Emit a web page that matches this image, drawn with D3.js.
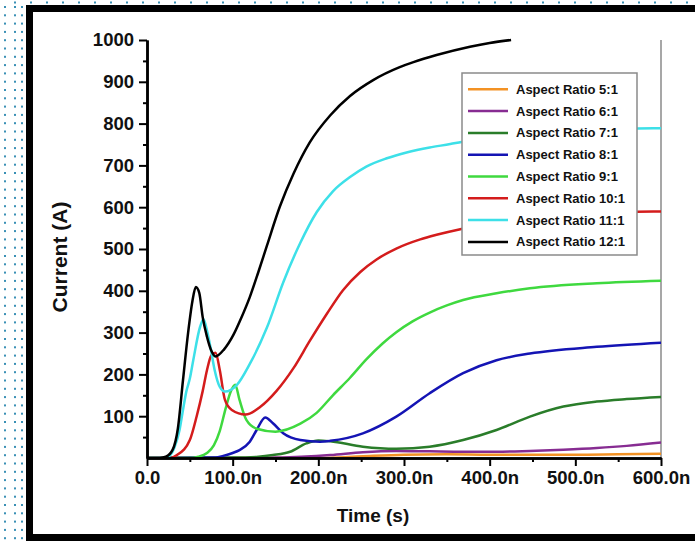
<!DOCTYPE html>
<html>
<head>
<meta charset="utf-8">
<script src="https://cdn.jsdelivr.net/npm/d3@7"></script>
<style>
	body { margin: 0; background: #fff; }
	svg text { font-family: "Liberation Sans", Arial, sans-serif; font-weight: bold; fill: #111; }
	.axis path, .axis line { stroke: #000; }
</style>
</head>
<body>
<svg id="chart" width="695" height="541"></svg>
<script>
// Подписи серий и цвета
var names = ["Aspect Ratio 5:1", "Aspect Ratio 6:1", "Aspect Ratio 7:1", "Aspect Ratio 8:1",
	"Aspect Ratio 9:1", "Aspect Ratio 10:1", "Aspect Ratio 11:1", "Aspect Ratio 12:1"];
var colors = ["#f39224", "#872c92", "#2a7d2a", "#1414b4", "#3fd93f", "#d41c1c", "#3de0e8", "#000000"];

// Точки кривых: [время, нс ; ток, А]
var r5 = [[0, 0], [200, 0], [230, 2], [260, 5], [300, 8], [350, 9], [400, 8], [450, 8], [500, 8], [550, 9], [600, 10]];
var r6 = [[0, 0], [120, 0], [150, 1], [180, 3], [214, 7], [252, 14], [291, 17], [330, 16], [369, 15], [408, 15],
	[447, 17], [486, 20], [525, 24], [560, 29], [600, 37]];
var r7 = [[0, 0], [100, 1], [130, 3], [147, 7], [167, 15], [186, 35], [200, 42], [214, 40], [252, 27], [291, 22],
	[330, 27], [369, 43], [408, 67], [447, 99], [486, 123], [525, 135], [560, 141], [600, 146]];
var r8 = [[0, 0], [80, 1], [89, 5], [100, 12], [108, 19], [120, 39], [128, 67], [138, 97], [147, 83], [159, 59],
	[179, 43], [202, 39], [214, 41], [252, 59], [291, 99], [330, 155], [369, 203], [408, 234], [447, 250],
	[525, 266], [600, 276]];
var r9 = [[0, 0], [50, 0], [60, 3], [70, 12], [78, 30], [85, 65], [92, 120], [98, 160], [103, 175], [108, 139],
	[116, 91], [128, 70], [150, 63], [179, 82], [198, 108], [217, 150], [237, 192], [256, 236], [275, 274],
	[291, 301], [310, 327], [330, 348], [350, 365], [369, 378], [408, 394], [447, 406], [525, 418], [600, 424]];
var r10 = [[0, 0], [28, 0], [35, 7], [50, 43], [58, 100], [65, 160], [70, 210], [75, 245], [80, 252], [85, 210],
	[91, 139], [99, 115], [115, 104], [132, 122], [151, 160], [171, 215], [190, 280], [210, 345], [229, 402],
	[249, 445], [268, 475], [291, 501], [319, 523], [338, 534], [367, 548], [420, 567], [480, 580],
	[540, 587], [572, 589], [600, 590]];
var r11 = [[0, 0], [20, 0], [25, 3], [32, 25], [38, 67], [42, 115], [46, 160], [50, 190], [54, 234], [62, 314],
	[66, 332], [70, 305], [74, 266], [79, 210], [85, 170], [91, 159], [105, 175], [120, 225], [140, 312],
	[159, 420], [179, 515], [198, 588], [217, 638], [237, 672], [256, 697], [280, 717], [303, 731],
	[330, 743], [354, 751], [367, 756], [430, 772], [500, 782], [572, 788], [600, 789]];
var r12 = [[0, 0], [15, 0], [22, 3], [30, 20], [36, 70], [42, 186], [48, 300], [53, 375], [57, 409], [61, 395],
	[65, 337], [70, 290], [75, 257], [80, 243], [90, 260], [101, 295], [110, 335], [120, 385], [130, 445],
	[140, 508], [155, 601], [171, 680], [190, 755], [214, 820], [237, 866], [264, 904], [295, 935],
	[311, 947], [338, 964], [377, 984], [400, 993], [425, 1000]];
var series = [r5, r6, r7, r8, r9, r10, r11, r12];

// Деления осей
var xTicks = [0, 100, 200, 300, 400, 500, 600];
var xLabels = ["0.0", "100.0n", "200.0n", "300.0n", "400.0n", "500.0n", "600.0n"];
var xMinor = [50, 150, 250, 350, 450, 550];
var yTicks = [100, 200, 300, 400, 500, 600, 700, 800, 900, 1000];
var yMinor = [50, 150, 250, 350, 450, 550, 650, 750, 850, 950];

var svg = d3.select("#chart");

// Пунктирная рамка страницы
var dots = svg.append("g").attr("fill", "#3a90b5");
d3.range(14, 695, 16).forEach(function (px) {
	dots.append("rect").attr("x", px).attr("y", 1.5).attr("width", 2).attr("height", 2);
});
[4, 14, 21].forEach(function (px) {
	d3.range(6, 541, 8.3).forEach(function (py) {
		dots.append("rect").attr("x", px).attr("y", py).attr("width", 2).attr("height", 2);
	});
});

// Чёрная рамка
svg.append("rect")
	.attr("x", 29.5).attr("y", 8.5)
	.attr("width", 720).attr("height", 529)
	.attr("fill", "#fff")
	.attr("stroke", "#000")
	.attr("stroke-width", 7);

var plotL = 147, plotR = 661, plotT = 40, plotB = 458;

var x = d3.scaleLinear().domain([0, 600]).range([plotL, plotR]);
var y = d3.scaleLinear().domain([0, 1000]).range([plotB, plotT]);

svg.append("defs").append("clipPath")
	.attr("id", "clip")
	.append("rect")
	.attr("x", plotL).attr("y", plotT - 2)
	.attr("width", plotR - plotL).attr("height", plotB - plotT + 2);

// Правая граница поля
svg.append("line")
	.attr("x1", plotR).attr("x2", plotR)
	.attr("y1", plotT).attr("y2", plotB)
	.attr("stroke", "#8a8a8a")
	.attr("stroke-width", 1.5);

// Кривые
var line = d3.line()
	.x(function (d) { return x(d[0]); })
	.y(function (d) { return y(d[1]); })
	.curve(d3.curveMonotoneX);

svg.append("g")
	.attr("clip-path", "url(#clip)")
	.selectAll("path")
	.data(series)
	.enter().append("path")
	.attr("fill", "none")
	.attr("stroke", function (d, i) { return colors[i]; })
	.attr("stroke-width", 2.5)
	.attr("stroke-linejoin", "round")
	.attr("d", line);

// Ось X
svg.append("g")
	.attr("class", "axis")
	.attr("transform", "translate(0," + plotB + ")")
	.call(d3.axisBottom(x).tickValues(xTicks).tickSize(8).tickSizeOuter(0).tickPadding(5)
		.tickFormat(function (d, i) { return xLabels[i]; }));
svg.append("g")
	.attr("class", "axis")
	.attr("transform", "translate(0," + plotB + ")")
	.call(d3.axisBottom(x).tickValues(xMinor).tickSize(4).tickSizeOuter(0).tickFormat(""));

// Ось Y
svg.append("g")
	.attr("class", "axis")
	.attr("transform", "translate(" + plotL + ",0)")
	.call(d3.axisLeft(y).tickValues(yTicks).tickSize(8).tickPadding(5).tickSizeOuter(0)
		.tickFormat(d3.format("d")));
svg.append("g")
	.attr("class", "axis")
	.attr("transform", "translate(" + plotL + ",0)")
	.call(d3.axisLeft(y).tickValues(yMinor).tickSize(4).tickSizeOuter(0).tickFormat(""));

svg.selectAll(".axis path").attr("stroke-width", 2.5);
svg.selectAll(".axis line").attr("stroke-width", 2);
svg.selectAll(".axis text").attr("font-size", 18.5).attr("fill", "#111")
	.attr("font-family", "Liberation Sans, Arial, sans-serif");

// Подписи осей
svg.append("text")
	.attr("x", 373).attr("y", 522)
	.attr("text-anchor", "middle")
	.attr("font-size", 19)
	.text("Time (s)");
svg.append("text")
	.attr("transform", "translate(67,257) rotate(-90)")
	.attr("text-anchor", "middle")
	.attr("font-size", 21)
	.text("Current (A)");

// Легенда
var legend = svg.append("g");
legend.append("rect")
	.attr("x", 462).attr("y", 73)
	.attr("width", 175).attr("height", 182)
	.attr("fill", "#fff")
	.attr("stroke", "#8a8a8a")
	.attr("stroke-width", 1.5);
var item = legend.selectAll(".item")
	.data(names)
	.enter().append("g")
	.attr("class", "item")
	.attr("transform", function (d, i) { return "translate(0," + (89.3 + i * 21.8) + ")"; });
item.append("line")
	.attr("x1", 468).attr("x2", 508)
	.attr("stroke", function (d, i) { return colors[i]; })
	.attr("stroke-width", 2.5);
item.append("text")
	.attr("x", 516).attr("dy", "0.35em")
	.attr("font-size", 13)
	.text(function (d) { return d; });
</script>
</body>
</html>
